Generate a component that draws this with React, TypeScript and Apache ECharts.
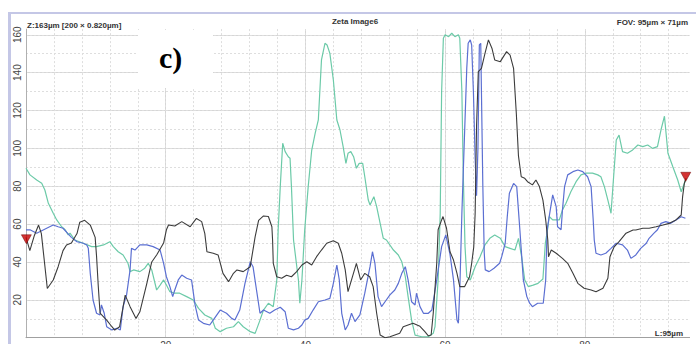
import React, { useEffect, useRef } from "react";
import * as echarts from "echarts";

const X_MIN = 0;
const X_MAX = 95;
const Y_MIN = 0;
const Y_MAX = 163;
const xMajorStep = 20;
const xMinorStep = 4;
const yMajorStep = 20;
const yMinorStep = 10;

const blackSeries: [number, number][] = [
  [0, 53], [0.55, 46], [1.2, 54], [1.8, 59.5], [2.2, 55], [3.05, 26], [3.9, 30.5], [4.6, 37.5],
  [5.3, 46], [5.8, 49], [6.5, 50], [7.3, 55], [7.7, 61], [8.4, 62], [9.2, 59.5], [9.9, 53],
  [10.1, 43], [10.35, 27], [10.6, 13], [11.55, 9.3], [12.3, 5.8], [12.7, 4], [13.4, 5.8],
  [14.2, 22.5], [14.9, 16.4], [15.75, 10.2], [16.3, 13.7], [17.3, 28.7], [18.0, 40], [18.7, 43.7],
  [19.7, 50], [20.1, 57], [20.4, 59.5], [21.3, 59], [22.3, 61.3], [23.5, 58.6], [24.4, 63],
  [25.15, 61.3], [25.6, 55], [25.9, 45.4], [26.8, 44.6], [27.5, 43.7], [28.2, 34], [29.0, 29.6],
  [29.7, 34], [30.2, 35.8], [31.1, 34.9], [32.1, 37.5], [32.8, 53.3], [33.3, 62], [34.0, 64.3],
  [34.7, 64], [35.2, 58.6], [35.3, 51.6], [35.4, 39.3], [35.9, 32.2], [36.6, 31.4], [37.3, 33],
  [38.0, 32.2], [38.75, 34.9], [39.5, 38.4], [40.2, 40.1], [40.9, 38.4], [41.6, 42.8], [42.3, 46.3],
  [43.05, 49.9], [44.0, 51.2], [44.7, 49.9], [45.2, 44.6], [45.7, 35.8], [46.1, 24.3], [46.6, 30.5],
  [47.3, 39.3], [47.9, 30.5], [48.5, 34], [49.2, 32.2], [49.7, 27], [50.2, 12.9], [50.7, 1.4],
  [51.4, 0], [52.1, 0.5], [53.5, 2.3], [54.0, 5.8], [54.7, 6.7], [55.4, 7.6], [56.4, 6], [57.1, 3.2],
  [57.6, 1], [58.0, 1.4], [58.3, 12.9], [58.8, 39.3], [59.0, 57], [59.5, 62.2], [59.7, 64],
  [60.2, 57.8], [60.7, 45.4], [61.2, 41], [61.7, 34], [62.1, 27], [62.8, 27], [63.5, 32.2],
  [63.8, 39.3], [64.1, 48], [64.3, 65.7], [64.5, 112], [64.75, 140.5], [65.2, 142.3], [65.7, 150],
  [66.2, 157.3], [66.7, 152.9], [67.1, 146.7], [67.9, 145.8], [68.8, 151.1], [69.3, 149.3],
  [69.8, 142.3], [70.2, 118], [70.5, 96], [70.9, 85], [71.4, 84.2], [71.8, 82.4], [72.5, 80.7],
  [73.0, 83.3], [73.5, 79.8], [74.0, 72.7], [74.4, 62.2], [74.7, 51.6], [74.8, 42.8], [75.2, 46.3],
  [75.9, 44.6], [76.8, 41.9], [77.55, 39.3], [78.3, 34], [79.0, 28.7], [79.9, 26.1], [80.9, 25.2],
  [81.6, 24.3], [82.6, 26.1], [83.3, 31.4], [83.6, 42.8], [84.2, 48], [84.9, 50.7], [85.9, 55.2],
  [86.9, 56.9], [87.3, 56.9], [88.3, 57.8], [89.2, 57.8], [90.2, 58.6], [91.2, 59.5], [92.1, 60.4],
  [93.05, 62.2], [93.8, 64.8], [94.0, 74.5], [94.25, 81.6], [94.5, 84.2],
];

const tealSeries: [number, number][] = [
  [0, 89.5], [0.57, 86], [1.53, 83.3], [2.25, 81.6], [2.7, 78], [3.2, 71], [3.9, 65.7], [4.4, 62.2],
  [5.1, 58.6], [5.6, 57], [6.05, 54.3], [6.3, 55.2], [7.0, 51.6], [8.2, 49.9], [9.4, 48.1],
  [10.1, 48.1], [11.1, 49], [12.0, 50.7], [12.5, 48.1], [13.2, 45.4], [13.9, 43.7], [14.6, 39.3],
  [14.9, 34.9], [15.4, 35.8], [16.3, 34.9], [17.0, 36.7], [17.5, 39.3], [18.0, 35.8], [18.7, 25.2],
  [19.2, 27.8], [19.7, 30.5], [20.1, 27.8], [20.6, 24.3], [21.3, 23.5], [22.0, 23.5], [23.0, 21.7],
  [23.95, 19.9], [24.7, 15.5], [25.6, 12], [26.6, 10.2], [27.1, 5], [27.8, 3.2], [28.7, 5],
  [29.7, 5.8], [30.4, 8.5], [31.1, 5.8], [32.1, 3.2], [32.8, 2.3], [33.5, 9.3], [34.0, 14.6],
  [34.7, 18.2], [35.4, 16.4], [35.9, 30.5], [36.1, 57], [36.4, 79.8], [36.75, 102.7], [37.1, 98.3],
  [37.55, 95.6], [37.8, 94.8], [38.0, 79.8], [38.3, 51.6], [39.0, 30.5], [39.2, 18.2], [39.5, 30.5],
  [39.9, 57], [40.4, 79.8], [40.9, 99], [41.4, 108], [41.85, 115], [42.3, 146.7], [42.8, 155.5],
  [43.1, 154.6], [43.5, 150.2], [44.0, 136.1], [44.5, 115], [44.95, 109.7], [45.4, 100.9],
  [45.8, 92.1], [46.1, 97.4], [46.5, 98.3], [46.9, 95.6], [47.3, 89.5], [47.7, 92.1], [48.2, 92.1],
  [48.5, 85], [49.0, 72.7], [49.25, 70.1], [49.8, 74.5], [50.2, 69.2], [50.7, 60.4], [51.15, 52.5],
  [51.6, 51.6], [52.6, 46.3], [53.3, 43.7], [53.8, 40.1], [54.3, 32.2], [54.7, 21.7], [55.2, 9.3],
  [55.7, 1.4], [56.65, 0.5], [57.6, 0.5], [58.3, 2.3], [58.55, 5.8], [59.0, 30.5], [59.3, 65.7],
  [59.5, 130], [59.75, 158.2], [60.0, 160], [60.5, 159], [60.95, 160.8], [61.4, 159], [61.9, 160],
  [62.1, 158.2], [62.4, 130], [62.6, 86], [62.85, 48.1], [63.1, 32.2], [63.6, 30.5], [64.3, 37.5],
  [65.0, 42.8], [65.7, 49], [66.4, 52.5], [67.1, 54.3], [67.9, 52.5], [68.6, 48.1], [69.3, 47.2],
  [70.0, 46.3], [70.5, 52.5], [70.95, 42.8], [71.4, 30.5], [71.9, 27], [72.6, 27.8], [73.3, 28.7],
  [74.0, 31], [74.35, 50], [74.7, 58], [74.9, 64], [75.4, 62.2], [76.35, 62.2], [76.8, 67.5],
  [77.3, 71], [78.0, 77.1], [78.75, 82.4], [79.45, 86], [80.2, 86.9], [81.1, 86.9], [81.85, 86],
  [82.3, 85], [82.8, 79.8], [83.3, 72.7], [83.75, 65.7], [84.5, 104.4], [84.9, 107], [85.4, 98.3],
  [86.1, 97.4], [86.85, 99.2], [87.6, 101.8], [88.3, 100.9], [89.0, 101.8], [89.7, 100],
  [90.4, 100.9], [90.9, 109.7], [91.4, 117], [91.9, 97.4], [92.6, 90.3], [93.3, 83.3],
  [93.8, 77.1], [94.25, 81.6], [94.5, 84.2],
];

const blueSeries: [number, number][] = [
  [0, 57], [0.57, 57], [1.53, 55.2], [2.96, 57.8], [3.9, 59.5], [4.6, 58.6], [5.3, 57.8], [6.0, 55],
  [6.5, 53], [7.3, 50.7], [8.2, 49.9], [8.7, 49], [8.92, 47.2], [9.2, 34], [9.6, 19.9], [10.1, 12.9],
  [10.6, 12], [10.8, 17.3], [11.2, 12.9], [11.55, 5.8], [12.3, 4.1], [13.0, 5], [13.5, 4.1],
  [13.9, 16.4], [14.4, 22.6], [14.9, 35.8], [15.1, 47.2], [15.6, 46.3], [16.3, 49], [17.3, 49],
  [18.2, 48.1], [19.2, 46.3], [19.7, 39.3], [20.1, 32.2], [20.6, 27], [21.0, 21.7], [21.3, 25.2],
  [21.8, 30.5], [22.3, 33.1], [23.0, 31.4], [23.7, 30.5], [24.2, 17.3], [24.7, 9.3], [25.4, 7.6],
  [26.3, 6.7], [26.8, 9.3], [27.8, 14.6], [28.7, 12.9], [29.45, 10.2], [29.9, 9.3], [30.6, 14.6],
  [31.35, 28.7], [32.1, 40.1], [32.5, 37.5], [33.0, 25.2], [33.5, 12.9], [34.0, 14.6], [34.9, 12.9],
  [35.6, 14.6], [36.4, 16.1], [37.1, 13.7], [37.55, 5], [38.3, 4.1], [39.0, 5], [39.5, 6.7],
  [39.9, 9.3], [40.4, 10.2], [41.1, 14.6], [41.85, 19], [42.8, 19.9], [43.5, 20.8], [44.0, 28.7],
  [44.5, 38.4], [44.85, 30.5], [45.2, 12.9], [45.7, 4.1], [46.1, 6.7], [46.6, 12.9], [47.1, 8.5],
  [47.8, 12], [48.5, 23.5], [49.25, 37.5], [49.6, 45.4], [49.95, 39.3], [50.4, 21.7], [50.9, 16.4],
  [51.4, 19], [52.1, 22.6], [52.8, 25.2], [53.3, 28.7], [53.8, 34], [54.3, 37.5], [54.7, 30.5],
  [55.2, 19], [55.7, 17.3], [55.9, 23.5], [56.4, 16.4], [56.9, 12.9], [57.6, 12.9], [58.1, 14.6],
  [58.8, 30.5], [59.5, 48.1], [60.1, 54.3], [60.7, 44], [61.2, 30.5], [61.7, 9.3], [61.9, 7.6],
  [62.1, 25.2], [62.4, 65.7], [62.6, 87.7], [63.1, 142.3], [63.3, 155.5], [63.6, 157.3],
  [63.8, 154.6], [64.05, 130], [64.3, 94.8], [64.5, 75], [64.7, 100], [64.9, 154.6], [65.1, 155.5],
  [65.2, 130], [65.4, 80], [65.6, 45], [65.75, 35.8], [66.3, 34.9], [67.0, 36.7], [67.8, 39.3],
  [68.1, 42.8], [68.6, 49.9], [68.9, 64], [69.2, 76.3], [69.8, 81.5], [70.25, 79.8], [70.7, 57],
  [71.2, 30.5], [71.7, 21.7], [72.1, 18.2], [72.5, 16.4], [73.25, 18.2], [74.05, 18.2], [74.4, 30.5],
  [74.6, 57], [74.9, 64], [75.4, 75.4], [75.9, 69.2], [76.1, 58.6], [76.6, 57], [76.8, 67.5],
  [77.1, 79.8], [77.55, 86], [78.3, 87.7], [79.0, 88.6], [79.7, 87.7], [80.4, 85], [80.9, 79.8],
  [81.2, 62.2], [81.35, 51.6], [81.6, 44.6], [82.3, 43.7], [83.0, 44.6], [83.75, 47.2], [84.5, 49.9],
  [85.4, 49], [86.1, 46.3], [86.6, 41.9], [87.3, 43.7], [88.0, 47.2], [88.8, 49.9], [89.2, 52.5],
  [89.9, 55.2], [90.4, 57], [90.9, 60.4], [91.6, 61.3], [92.3, 60.4], [93.05, 62.2], [93.8, 63.9],
  [94.4, 63.1],
];

const markerPoints: [number, number][] = [[0.05, 52], [94.45, 85]];

const headerLeft = "Z:163µm [200 × 0.820µm]";
const headerCenter = "Zeta Image6";
const headerRight = "FOV: 95µm × 71µm";
const footerRight = "L:95µm";
const panelLabel = "c)";

export default function App() {
  const ref = useRef<HTMLDivElement>(null);
  useEffect(() => {
    if (!ref.current) return;
    const chart = echarts.init(ref.current, undefined, { renderer: "svg" });
    const font = "'Liberation Sans', Arial, sans-serif";
    const hideEnds = (lo: number, hi: number) => (v: number) =>
      v <= lo || v >= hi ? "" : String(v);
    chart.setOption({
      animation: false,
      backgroundColor: "#ffffff",
      grid: { left: 26, right: 6.4, top: 29.1, bottom: 6.3, containLabel: false, outerBoundsMode: "none" },
      xAxis: [
        {
          type: "value", min: X_MIN, max: X_MAX, interval: xMajorStep, position: "bottom",
          axisLine: { show: true, lineStyle: { color: "#a0a0a0", width: 1 } },
          axisTick: { show: false },
          axisLabel: { formatter: hideEnds(X_MIN, X_MAX), fontSize: 10, margin: 3, color: "#444", fontFamily: font },
          splitLine: { show: true, showMinLine: false, showMaxLine: false, lineStyle: { color: "#d6d6d6", width: 1 } },
        },
        {
          type: "value", min: X_MIN, max: X_MAX, interval: xMinorStep, position: "bottom",
          axisLine: { show: false }, axisTick: { show: false }, axisLabel: { show: false },
          splitLine: { show: true, showMinLine: false, showMaxLine: false, lineStyle: { color: "#dedede", width: 1, type: [2, 2] } },
        },
      ],
      yAxis: [
        {
          type: "value", min: Y_MIN, max: Y_MAX, interval: yMajorStep, position: "left",
          axisLine: { show: true, lineStyle: { color: "#b0b0b0", width: 1 } },
          axisTick: { show: false },
          axisLabel: { formatter: hideEnds(Y_MIN, Y_MAX), fontSize: 10, margin: 4, rotate: 90, color: "#444", fontFamily: font },
          splitLine: { show: true, showMinLine: false, showMaxLine: false, lineStyle: { color: "#d6d6d6", width: 1 } },
        },
        {
          type: "value", min: Y_MIN, max: Y_MAX, interval: yMinorStep, position: "left",
          axisLine: { show: false }, axisTick: { show: false }, axisLabel: { show: false },
          splitLine: { show: true, showMinLine: false, showMaxLine: false, lineStyle: { color: "#dedede", width: 1, type: [2, 2] } },
        },
      ],
      series: [
        { type: "line", data: tealSeries, showSymbol: false, lineStyle: { color: "#6ccaa8", width: 1.2 }, itemStyle: { color: "#6ccaa8" }, z: 3 },
        { type: "line", data: blueSeries, showSymbol: false, lineStyle: { color: "#5b6fd2", width: 1.2 }, itemStyle: { color: "#5b6fd2" }, z: 4 },
        { type: "line", data: blackSeries, showSymbol: false, lineStyle: { color: "#3c3c3c", width: 1.1 }, itemStyle: { color: "#3c3c3c" }, z: 5 },
        {
          type: "scatter", data: markerPoints, symbol: "triangle", symbolRotate: 180, symbolSize: [10, 9],
          clip: false, z: 6,
          itemStyle: { color: "#c80000", borderColor: "#6a0000", borderWidth: 0.6 },
        },
      ],
      graphic: [
        { type: "rect", shape: { x: 8, y: 12, width: 688, height: 2 }, style: { fill: "#c4c7e6" }, z: 10 },
        { type: "rect", shape: { x: 8, y: 12, width: 3, height: 332 }, style: { fill: "#c4c7e6" }, z: 10 },
        { type: "rect", shape: { x: 138, y: 30, width: 75, height: 58 }, style: { fill: "#ffffff" }, z: 1 },
        {
          type: "text", x: 159, y: 57, z: 10,
          style: { text: panelLabel, font: "bold 30px 'Liberation Serif', 'Times New Roman', serif", fill: "#000", textVerticalAlign: "middle" },
        },
        {
          type: "text", x: 27, y: 25, z: 10,
          style: { text: headerLeft, font: `bold 8px ${font}`, fill: "#333", textVerticalAlign: "middle" },
        },
        {
          type: "text", x: 355, y: 21.5, z: 10,
          style: { text: headerCenter, font: `bold 8px ${font}`, fill: "#333", textAlign: "center", textVerticalAlign: "middle" },
        },
        {
          type: "text", x: 688, y: 22, z: 10,
          style: { text: headerRight, font: `bold 8px ${font}`, fill: "#333", textAlign: "right", textVerticalAlign: "middle" },
        },
        {
          type: "text", x: 683, y: 333, z: 10,
          style: { text: footerRight, font: `bold 8px ${font}`, fill: "#333", textAlign: "right", textVerticalAlign: "middle" },
        },
      ],
    });
    return () => chart.dispose();
  }, []);
  return (
    <div
      ref={ref}
      style={{ position: "fixed", left: 0, top: 0, width: 696, height: 344, background: "#fff" }}
    />
  );
}
